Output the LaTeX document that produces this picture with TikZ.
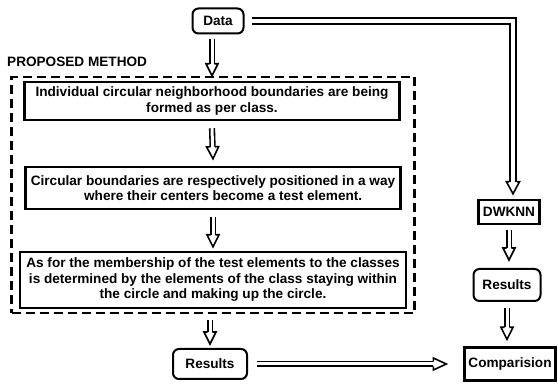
\documentclass[tikz,border=0pt]{standalone}
\usepackage{fontspec}
\setmainfont{Liberation Sans}
\usetikzlibrary{calc}
\newcommand\hollowarr[5]{% #1 start, #2 tip, #3 head length, #4 half shaft (line centre), #5 half head width
  \coordinate (ha) at (#1); \coordinate (hb) at (#2);
  \coordinate (hh) at ($(hb)!#3!(ha)$);
  \draw[shaftline] (ha) -- (hh);
  \draw[headline] ($(hh)!#4!90:(hb)$) -- ($(hh)!#5!90:(hb)$) -- (hb) -- ($(hh)!#5!-90:(hb)$) -- ($(hh)!#4!-90:(hb)$);
}
\begin{document}
\begin{tikzpicture}[x=1pt,y=-1pt,
  txt/.style={font=\bfseries\fontsize{13.6}{15.5}\selectfont, align=center, inner sep=0pt},
  sqbox/.style={txt, draw, line width=2.4pt, rectangle},
  rbox/.style={txt, draw, line width=2pt, rounded corners=6pt},
  shaftline/.style={double, double distance=3pt, line width=1.6pt},
  headline/.style={line width=1.6pt, line join=miter},
  longline/.style={double, double distance=3.6pt, line width=2.2pt, line join=miter},
  dashbox/.style={draw, line width=2.5pt, dash pattern=on 9pt off 5pt}]
\useasboundingbox (0,0) rectangle (558,387);

% nodes
\node[rbox, minimum width=51pt, minimum height=25pt] (data) at (218,21) {Data};
\node[txt, anchor=west] (pm) at (7,62) {PROPOSED METHOD};
\node[dashbox, minimum width=403pt, minimum height=236pt] (pmbox) at (213,195) {};
\node[sqbox, minimum width=375pt, minimum height=38pt] (b1) at (212,101)
  {Individual circular neighborhood boundaries are being\\formed as per class.};
\node[sqbox, minimum width=375pt, minimum height=42pt] (b2) at (213,188)
  {Circular boundaries are respectively positioned in a way\\\hspace*{1.5em}where their centers become a test element.};
\node[sqbox, minimum width=386pt, minimum height=56pt] (b3) at (213,280)
  {As for the membership of the test elements to the classes\\is determined by the elements of the class staying within\\the circle and making up the circle.};
\node[rbox, minimum width=74pt, minimum height=30pt] (res1) at (210,364) {Results};
\node[sqbox, minimum width=61pt, minimum height=24pt] (dw) at (509,212) {DWKNN};
\node[rbox, minimum width=67pt, minimum height=32pt] (res2) at (507,285) {Results};
\node[sqbox, minimum width=91pt, minimum height=33pt] (cmp) at (510,364) {Comparision};

% long double connector Data -> DWKNN
\coordinate (corner) at (513,21);
\coordinate (dwtip) at ($(corner |- dw.north)+(0,-5)$);
\coordinate (dwbase) at ($(dwtip)+(0,-12)$);
\draw[longline] ($(data.east)+(7,0)$) -- (corner) -- (dwbase);
\draw[headline] ($(dwbase)+(-3.9,0)$) -- ($(dwbase)+(-6.5,0)$) -- (dwtip) -- ($(dwbase)+(6.5,0)$) -- ($(dwbase)+(3.9,0)$);

% hollow arrows
\hollowarr{$(data.south -| b1.north)+(0,5)$}{b1.north |- pmbox.north}{12pt}{2.3pt}{6pt}
\hollowarr{$(b1.south)+(0,7)$}{$(b2.north)+(0,-7)$}{12pt}{2.3pt}{6pt}
\hollowarr{$(b2.south)+(0,7)$}{$(b3.north)+(0,-4)$}{12pt}{2.3pt}{6pt}
\hollowarr{$(pmbox.south -| res1.north)+(0,6)$}{$(res1.north)+(0,-4)$}{12pt}{2.3pt}{6pt}
\hollowarr{$(dw.south)+(0,5)$}{$(dw.south |- res2.north)+(0,-8)$}{12pt}{2.3pt}{6pt}
\hollowarr{$(res2.south)+(0,6)$}{$(res2.south |- cmp.north)+(0,-7)$}{12pt}{2.3pt}{6pt}
\hollowarr{$(res1.east)+(9,0)$}{$(cmp.west)+(-17,0)$}{13pt}{2.3pt}{6pt}
\end{tikzpicture}
\end{document}
